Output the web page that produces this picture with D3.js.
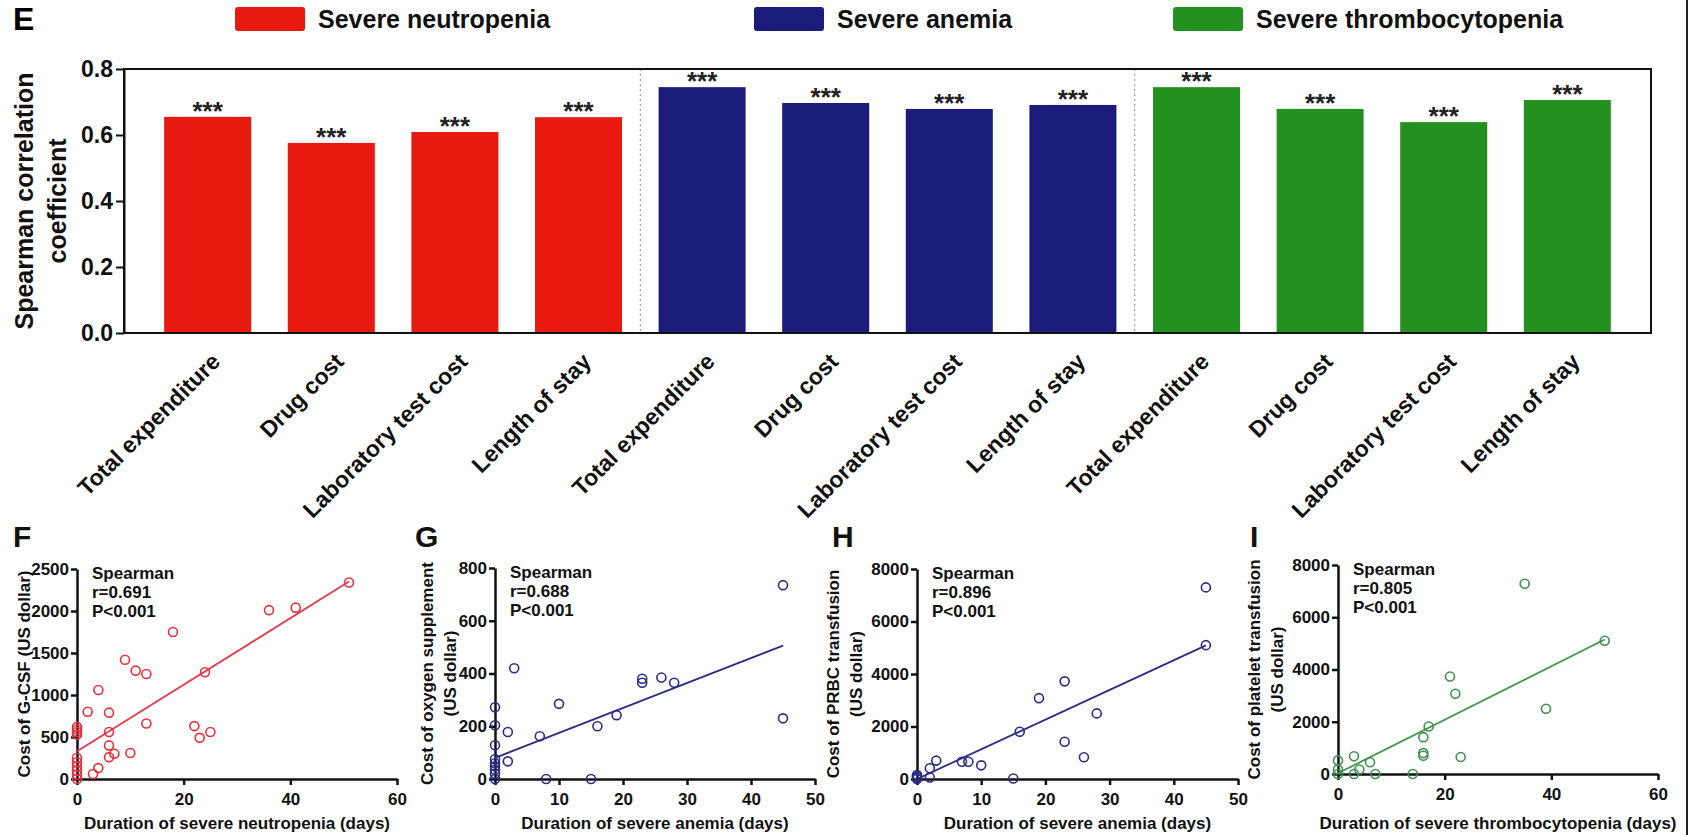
<!DOCTYPE html>
<html>
<head>
<meta charset="utf-8">
<script src="https://cdn.jsdelivr.net/npm/d3@7/dist/d3.min.js"></script>
<style>
  html, body { margin: 0; padding: 0; background: #fff; }
  svg { display: block; }
</style>
</head>
<body>
<div id="chart"></div>
<script>
// ---- data ----
const groups = ['Severe neutropenia', 'Severe anemia', 'Severe thrombocytopenia'];
const costItems = ['Total expenditure', 'Drug cost', 'Laboratory test cost', 'Length of stay'];
const neutropeniaRho = [0.655, 0.576, 0.609, 0.654];
const anemiaRho = [0.745, 0.697, 0.679, 0.691];
const thrombocytopeniaRho = [0.745, 0.679, 0.639, 0.706];
const barTicks = [0, 0.2, 0.4, 0.6, 0.8];

// [duration (days), cost (US dollar)]
const gcsfPoints = [[51, 2340], [36, 2010], [41, 2040], [18, 1750], [9, 1420], [11, 1290], [13, 1250],
  [24, 1270], [4, 1060], [2, 800], [6, 790], [6, 560], [13, 660], [22, 630], [23, 490], [25, 560],
  [6, 400], [7, 300], [10, 310], [6, 260], [4, 130], [3, 60], [0, 620], [0, 590], [0, 560], [0, 530],
  [0, 250], [0, 200], [0, 150], [0, 100], [0, 50], [0, 0]];
const oxygenPoints = [[45, 735], [45, 230], [3, 420], [10, 285], [23, 380], [23, 365], [26, 385],
  [28, 365], [16, 200], [19, 242], [7, 162], [2, 178], [2, 67], [8, 0], [15, 0], [0, 272], [0, 204],
  [0, 128], [0, 75], [0, 60], [0, 48], [0, 35], [0, 20], [0, 0]];
const prbcPoints = [[45, 7300], [45, 5100], [23, 3720], [19, 3080], [28, 2500], [16, 1800], [23, 1420],
  [26, 830], [3, 700], [7, 660], [8, 660], [10, 520], [2, 410], [2, 60], [15, 20], [0, 150], [0, 100],
  [0, 50], [0, 0]];
const plateletPoints = [[35, 7280], [50, 5100], [21, 3730], [22, 3070], [39, 2500], [17, 1820], [16, 1410],
  [16, 800], [16, 700], [23, 650], [3, 680], [6, 450], [0, 520], [4, 170], [3, 0], [7, 0], [14, 0],
  [0, 170], [0, 0]];

// fitted lines, start and end
const gcsfFit = [[0, 330], [51, 2350]];
const oxygenFit = [[0, 80], [45, 506]];
const prbcFit = [[0, 0], [45, 5090]];
const plateletFit = [[0, 30], [50, 5150]];

const gcsfStats = ['Spearman', 'r=0.691', 'P<0.001'];
const oxygenStats = ['Spearman', 'r=0.688', 'P<0.001'];
const prbcStats = ['Spearman', 'r=0.896', 'P<0.001'];
const plateletStats = ['Spearman', 'r=0.805', 'P<0.001'];

// ---- setup ----
const FONT = '"Liberation Sans", Arial, Helvetica, sans-serif';
const W = 1702, H = 835;
const groupColors = ['#e8190f', '#1b1b7c', '#23901f'];

const svg = d3.select('#chart').append('svg')
  .attr('width', W)
  .attr('height', H)
  .style('font-family', FONT);

svg.append('rect').attr('width', W).attr('height', H).attr('fill', '#fff');

// ---- panel E: bar chart ----
svg.append('text')
  .attr('x', 13).attr('y', 30)
  .attr('font-size', 32).attr('font-weight', 'bold')
  .text('E');

// legend
const legendX = [235, 754, 1173];
groups.forEach((g, i) => {
  svg.append('rect')
    .attr('x', legendX[i]).attr('y', 7)
    .attr('width', 70).attr('height', 24)
    .attr('rx', 3)
    .attr('fill', groupColors[i]);
  svg.append('text')
    .attr('x', legendX[i] + 83).attr('y', 28)
    .attr('font-size', 25).attr('font-weight', 'bold')
    .attr('fill', '#111')
    .text(g);
});

const barBox = { left: 124, right: 1651, top: 69, bottom: 333 };
const rhoSeries = [neutropeniaRho, anemiaRho, thrombocytopeniaRho];
const bars = groups.flatMap((g, gi) => costItems.map((c, ci) => ({
  group: gi, item: c, value: rhoSeries[gi][ci], idx: gi * costItems.length + ci
})));

const xBar = d3.scaleBand()
  .domain(bars.map(d => d.idx))
  .range([barBox.left, barBox.right])
  .paddingInner(0.296)
  .paddingOuter(0.325);

const yBar = d3.scaleLinear().domain([0, 0.8]).range([barBox.bottom, barBox.top]);

const barG = svg.append('g');

// group separators (dotted)
[4, 8].forEach(k => {
  const sx = (xBar(k - 1) + xBar.bandwidth() + xBar(k)) / 2;
  barG.append('line')
    .attr('x1', sx).attr('x2', sx)
    .attr('y1', barBox.top).attr('y2', barBox.bottom)
    .attr('stroke', '#8a8a8a')
    .attr('stroke-width', 1)
    .attr('stroke-dasharray', '2,3');
});

barG.selectAll('rect.bar')
  .data(bars)
  .join('rect')
  .attr('class', 'bar')
  .attr('x', d => xBar(d.idx))
  .attr('width', xBar.bandwidth())
  .attr('y', d => yBar(d.value))
  .attr('height', d => yBar(0) - yBar(d.value))
  .attr('fill', d => groupColors[d.group]);

// significance stars
barG.selectAll('text.star')
  .data(bars)
  .join('text')
  .attr('class', 'star')
  .attr('x', d => xBar(d.idx) + xBar.bandwidth() / 2)
  .attr('y', d => yBar(d.value) + 3)
  .attr('text-anchor', 'middle')
  .attr('font-size', 26)
  .attr('font-weight', 'bold')
  .attr('fill', '#222')
  .text('***');

// frame
barG.append('rect')
  .attr('x', barBox.left).attr('y', barBox.top)
  .attr('width', barBox.right - barBox.left)
  .attr('height', barBox.bottom - barBox.top)
  .attr('fill', 'none')
  .attr('stroke', '#111')
  .attr('stroke-width', 2);

// y axis
const yAxisBar = barG.append('g')
  .attr('transform', `translate(${barBox.left},0)`)
  .call(d3.axisLeft(yBar).tickValues(barTicks).tickFormat(d3.format('.1f')).tickSize(8).tickSizeOuter(0).tickPadding(3));
yAxisBar.select('.domain').attr('stroke', '#111').attr('stroke-width', 2);
yAxisBar.selectAll('.tick line').attr('stroke', '#111').attr('stroke-width', 2);
yAxisBar.selectAll('.tick text')
  .attr('font-family', FONT).attr('font-size', 23).attr('font-weight', 'bold').attr('fill', '#111');

// y label
const yLab = svg.append('text')
  .attr('transform', `translate(33,${(barBox.top + barBox.bottom) / 2}) rotate(-90)`)
  .attr('text-anchor', 'middle')
  .attr('font-size', 25).attr('font-weight', 'bold').attr('fill', '#111');
yLab.append('tspan').attr('x', 0).attr('y', 0).text('Spearman correlation');
yLab.append('tspan').attr('x', 0).attr('y', 33).text('coefficient');

// x category labels
barG.selectAll('text.cat')
  .data(bars)
  .join('text')
  .attr('class', 'cat')
  .attr('transform', d => `translate(${xBar(d.idx) + xBar.bandwidth() / 2 + 14},${barBox.bottom + 30}) rotate(-45)`)
  .attr('text-anchor', 'end')
  .attr('font-size', 23)
  .attr('font-weight', 'bold')
  .attr('fill', '#111')
  .text(d => d.item);

// ---- panels F-I: scatter plots ----
const panels = [
  { letter: 'F', letterX: 13, points: gcsfPoints, fit: gcsfFit, stats: gcsfStats, color: '#e8303c', lineColor: '#e83a4c',
    xMax: 60, xTicks: [0, 20, 40, 60], yMax: 2500, yTicks: [0, 500, 1000, 1500, 2000, 2500],
    x0: 77, x1: 397, y0: 779, y1: 569,
    yLabel: ['Cost of G-CSF (US dollar)'], yLabelX: [30], xLabel: 'Duration of severe neutropenia (days)' },
  { letter: 'G', letterX: 415, points: oxygenPoints, fit: oxygenFit, stats: oxygenStats, color: '#2b2b86', lineColor: '#2b2b86',
    xMax: 50, xTicks: [0, 10, 20, 30, 40, 50], yMax: 800, yTicks: [0, 200, 400, 600, 800],
    x0: 495, x1: 815, y0: 779, y1: 568,
    yLabel: ['Cost of oxygen supplement', '(US dollar)'], yLabelX: [433, 456], xLabel: 'Duration of severe anemia (days)' },
  { letter: 'H', letterX: 832, points: prbcPoints, fit: prbcFit, stats: prbcStats, color: '#2b2b86', lineColor: '#2b2b86',
    xMax: 50, xTicks: [0, 10, 20, 30, 40, 50], yMax: 8000, yTicks: [0, 2000, 4000, 6000, 8000],
    x0: 917, x1: 1238, y0: 779, y1: 569,
    yLabel: ['Cost of PRBC transfusion', '(US dollar)'], yLabelX: [839, 862], xLabel: 'Duration of severe anemia (days)' },
  { letter: 'I', letterX: 1250, points: plateletPoints, fit: plateletFit, stats: plateletStats, color: '#3f8f52', lineColor: '#3a9a4a',
    xMax: 60, xTicks: [0, 20, 40, 60], yMax: 8000, yTicks: [0, 2000, 4000, 6000, 8000],
    x0: 1338, x1: 1658, y0: 774, y1: 565,
    yLabel: ['Cost of platelet transfusion', '(US dollar)'], yLabelX: [1260, 1283], xLabel: 'Duration of severe thrombocytopenia (days)' }
];

function drawScatter(p) {
  const g = svg.append('g');
  const x = d3.scaleLinear().domain([0, p.xMax]).range([p.x0, p.x1]);
  const y = d3.scaleLinear().domain([0, p.yMax]).range([p.y0, p.y1]);

  g.append('text')
    .attr('x', p.letterX).attr('y', 547)
    .attr('font-size', 30).attr('font-weight', 'bold').attr('fill', '#111')
    .text(p.letter);

  const xAxis = g.append('g')
    .attr('transform', `translate(0,${p.y0})`)
    .call(d3.axisBottom(x).tickValues(p.xTicks).tickFormat(d3.format('d')).tickSize(6).tickSizeOuter(0).tickPadding(8));
  const yAxis = g.append('g')
    .attr('transform', `translate(${p.x0},0)`)
    .call(d3.axisLeft(y).tickValues(p.yTicks).tickFormat(d3.format('d')).tickSize(6).tickSizeOuter(0).tickPadding(2));
  [xAxis, yAxis].forEach(a => {
    a.select('.domain').attr('stroke', '#111').attr('stroke-width', 2.5);
    a.selectAll('.tick line').attr('stroke', '#111').attr('stroke-width', 2.5);
    a.selectAll('.tick text')
      .attr('font-family', FONT).attr('font-size', 17).attr('font-weight', 'bold').attr('fill', '#111');
  });

  g.append('line')
    .attr('x1', x(p.fit[0][0])).attr('y1', y(p.fit[0][1]))
    .attr('x2', x(p.fit[1][0])).attr('y2', y(p.fit[1][1]))
    .attr('stroke', p.lineColor)
    .attr('stroke-width', 1.8);

  g.selectAll('circle')
    .data(p.points)
    .join('circle')
    .attr('cx', d => x(d[0]))
    .attr('cy', d => y(d[1]))
    .attr('r', 4.5)
    .attr('fill', 'none')
    .attr('stroke', p.color)
    .attr('stroke-width', 1.6);

  g.selectAll('text.stat')
    .data(p.stats)
    .join('text')
    .attr('class', 'stat')
    .attr('x', p.x0 + 15)
    .attr('y', (d, i) => p.y1 + 10 + i * 19)
    .attr('font-size', 17).attr('font-weight', 'bold').attr('fill', '#111')
    .text(d => d);

  g.append('text')
    .attr('x', (p.x0 + p.x1) / 2).attr('y', 829)
    .attr('text-anchor', 'middle')
    .attr('font-size', 17).attr('font-weight', 'bold').attr('fill', '#111')
    .text(p.xLabel);

  p.yLabel.forEach((t, i) => {
    g.append('text')
      .attr('transform', `translate(${p.yLabelX[i]},${(p.y0 + p.y1) / 2}) rotate(-90)`)
      .attr('text-anchor', 'middle')
      .attr('font-size', 17).attr('font-weight', 'bold').attr('fill', '#111')
      .text(t);
  });
}

panels.forEach(drawScatter);

// figure border on the right edge
svg.append('line')
  .attr('x1', 1687).attr('x2', 1687)
  .attr('y1', 0).attr('y2', H)
  .attr('stroke', '#222')
  .attr('stroke-width', 2);
</script>
</body>
</html>
